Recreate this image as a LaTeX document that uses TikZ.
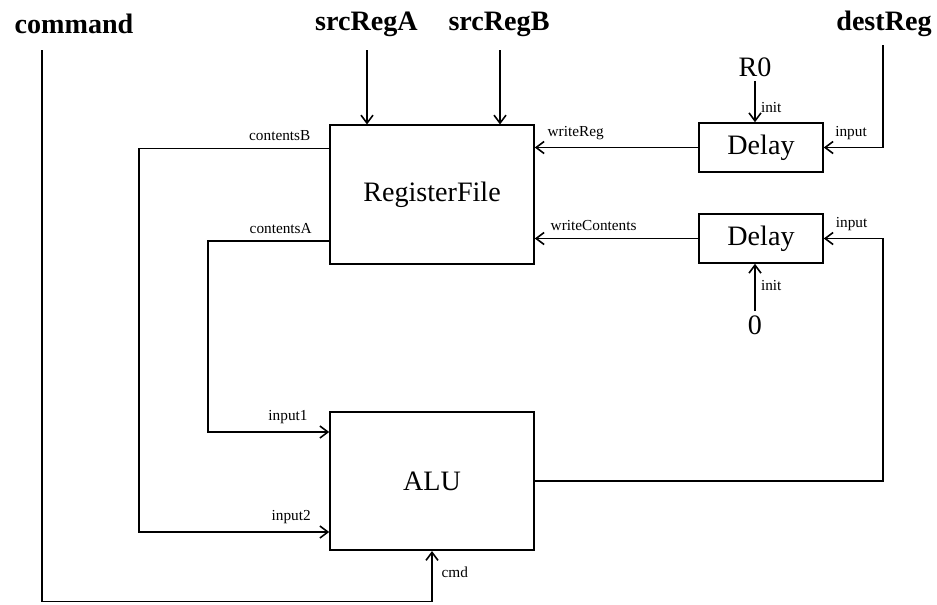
\documentclass[tikz,border=0pt]{standalone}
\usepackage{fontspec}
\setmainfont{Liberation Serif}
\usetikzlibrary{arrows.meta}

\begin{document}
\begin{tikzpicture}[
    >={Straight Barb[length=1.6mm,width=2.4mm]},
    line width=0.9pt,
    unit/.style={draw, minimum width=4.08cm, minimum height=2.77cm, inner sep=0pt, font=\fontsize{16}{18}\selectfont},
    delaybox/.style={draw, minimum width=2.48cm, minimum height=0.98cm, inner sep=0pt, font=\fontsize{16}{18}\selectfont},
    signal/.style={font=\bfseries\fontsize{16}{18}\selectfont},
    konst/.style={inner sep=2pt, font=\fontsize{16}{18}\selectfont},
    port/.style={inner sep=1pt, font=\fontsize{8.7}{10}\selectfont}
]
\useasboundingbox (0,0) rectangle (18.74,-12.08);

\foreach \position / \label / \name in {(1.48,-0.48)/command/cmdsig, (7.33,-0.48)/srcRegA/srcA, (9.98,-0.48)/srcRegB/srcB, (17.68,-0.48)/destReg/dest}
    \node (\name) at \position [signal] {\label};

\node (rf) at (8.64,-3.89) [unit] {RegisterFile};
\node (alu) at (8.64,-9.62) [unit] {ALU};
\node (d1) at (15.22,-2.95) [delaybox] {Delay};
\node (d2) at (15.22,-4.77) [delaybox] {Delay};
\node (r0) at (15.1,-1.34) [konst] {R0};
\node (zero) at (15.1,-6.5) [konst] {0};

\coordinate (cmdtop) at (0.84,-1.0);
\coordinate (cmdbot) at (0.84,-12.03);
\coordinate (srcAtop) at (7.34,-1.0);
\coordinate (srcBtop) at (10.0,-1.0);
\coordinate (desttop) at (17.66,-0.9);
\coordinate (bx) at (2.78,0);
\coordinate (ax) at (4.16,0);
\coordinate (rfB) at ([yshift=0.92cm]rf.west);
\coordinate (rfA) at ([yshift=-0.93cm]rf.west);
\coordinate (alu1) at ([yshift=0.98cm]alu.west);
\coordinate (alu2) at ([yshift=-1.02cm]alu.west);

\draw [->] (srcAtop) -- (srcAtop |- rf.north);
\draw [->] (srcBtop) -- (srcBtop |- rf.north);

\draw [->] (r0) -- node [port, right=2pt, pos=0.65] {init} (r0 |- d1.north);
\draw [->] (zero) -- node [port, right=2pt, pos=0.55] {init} (zero |- d2.south);

\draw [->] (desttop) |- node [port, above=3pt, pos=0.77] {input} (d1.east);
\draw [->] (alu.east) -| (desttop |- d2.east) -- node [port, above=3pt, pos=0.53] {input} (d2.east);

\draw [->] (d1.west) -- node [port, above=3pt, pos=0.75] {writeReg} (d1.west -| rf.east);
\draw [->] (d2.west) -- node [port, above=3pt, pos=0.64] {writeContents} (d2.west -| rf.east);

\draw [->] (rfB) -- node [port, above=3pt, pos=0.26] {contentsB} (bx |- rfB) |- node [port, above=3pt, pos=0.9] {input2} (alu2);
\draw [->] (rfA) -- node [port, above=3pt, pos=0.4] {contentsA} (ax |- rfA) |- node [port, above=3pt, pos=0.83] {input1} (alu1);

\draw [->] (cmdtop) -- (cmdbot) -| node [port, right=4pt, pos=0.79] {cmd} (alu.south);
\end{tikzpicture}
\end{document}
